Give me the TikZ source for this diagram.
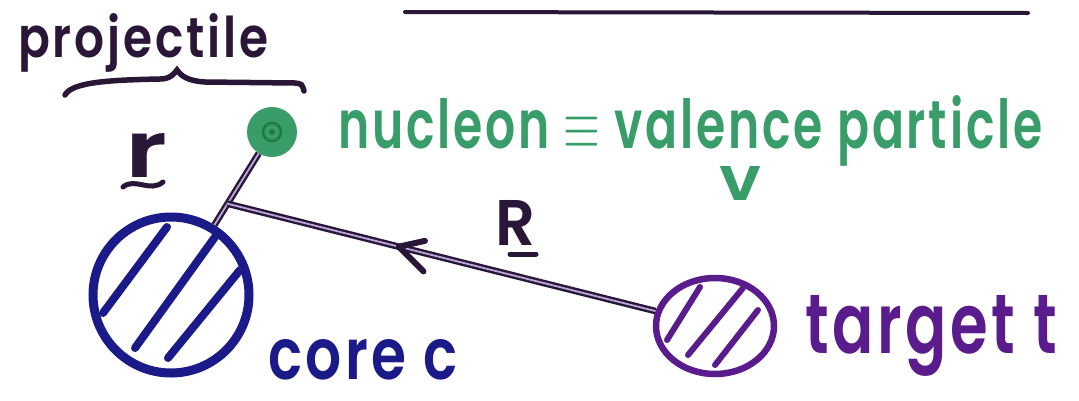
\documentclass[tikz,border=0pt]{standalone}
\usepackage{fontspec}
\setmainfont{Poppins}[BoldFont={Poppins SemiBold}]
\usetikzlibrary{shapes.geometric,decorations.markings,calc}
\definecolor{ink}{HTML}{2A1636}
\definecolor{nucgreen}{HTML}{389D68}
\definecolor{nucdark}{HTML}{1F7A45}
\definecolor{corenavy}{HTML}{1A1A88}
\definecolor{tgtpurple}{HTML}{5A1C8C}
\definecolor{lilac}{HTML}{B8A8D8}
\begin{document}
\begin{tikzpicture}[x=1pt,y=-1pt,
  wire/.style={draw=ink, line width=2.4pt, double=lilac, double distance=1.8pt},
  hatchline/.style={line width=8pt, line cap=round},
  lbl/.style={inner sep=0pt, anchor=base west, font=\bfseries\addfontfeature{LetterSpace=6}},
  midarrow/.style={decoration={markings, mark=at position #1 with {\draw[ink, line width=6pt, line cap=round, line join=round] (-24,12) -- (0,0) -- (-30,-18);}}, postaction={decorate}}]
\useasboundingbox (0,0) rectangle (1079,400);
\fill[white] (0,0) rectangle (1079,400);

% top rule
\draw[ink, line width=4pt, line cap=round] (405,12) -- (1028,13);

% projectile with brace
\node[lbl, text=ink] (proj) at (18,57) {\resizebox{250pt}{44pt}{projectile}};
\draw[ink, line width=5.5pt, line cap=round] (65,95) .. controls (72,82) and (110,80) .. (160,79) .. controls (170,79) and (174,74) .. (177,70) .. controls (181,76) and (188,81) .. (205,82) -- (295,83) .. controls (302,84) .. (304,91);

% bodies
\node[circle, fill=nucgreen, minimum size=50pt, inner sep=0pt] (nuc) at (272,132) {};
\draw[nucdark, line width=2.5pt] (nuc.center) circle (9);
\fill[nucdark] (nuc.center) circle (3);

\node[circle, draw=corenavy, line width=9pt, minimum size=156pt, inner sep=0pt] (core) at (171,295) {};
\draw[corenavy, hatchline] (103,313) -- (167,227);
\draw[corenavy, hatchline] (135,348) -- (215,237);
\draw[corenavy, hatchline] (168,358) -- (240,270);

\node[ellipse, draw=tgtpurple, line width=6.5pt, minimum width=118pt, minimum height=96pt, inner sep=0pt] (tgt) at (715,326) {};
\draw[tgtpurple, hatchline, line width=6pt] (667,340) -- (700,287);
\draw[tgtpurple, hatchline, line width=6pt] (688,355) -- (743,288);
\draw[tgtpurple, hatchline, line width=6pt] (715,365) -- (758,310);

% connectors
\coordinate (j) at ($(nuc.center)!0.44!(core.center)$);
\draw[wire] (nuc) -- (core);
\draw[wire] (tgt) -- (j);
\path[midarrow=0.6] (tgt) -- (j);

% labels
\node[lbl, text=ink] (r) at (125,177) {\resizebox{42pt}{44pt}{r}};
\draw[ink, line width=5pt, line cap=round] (123,187) .. controls (135,177) and (150,193) .. (163,182);
\node[lbl, text=ink] (R) at (495,245) {\resizebox{40pt}{45pt}{R}};
\draw[ink, line width=5pt, line cap=round] (510,254) -- (536,254);

\node[lbl, text=nucgreen] (nucl) at (338,148) {\raisebox{0pt}[\height][0pt]{\resizebox{704pt}{53pt}{nucleon $\equiv$ valence particle}}};
\node[lbl, text=nucgreen] (v) at (719,200) {\resizebox{42pt}{34pt}{v}};
\node[lbl, text=corenavy] (corel) at (268,379) {\resizebox{189pt}{40pt}{core c}};
\node[lbl, text=tgtpurple] (tgtl) at (805,353) {\resizebox{252pt}{58pt}{target t}};
\end{tikzpicture}
\end{document}
